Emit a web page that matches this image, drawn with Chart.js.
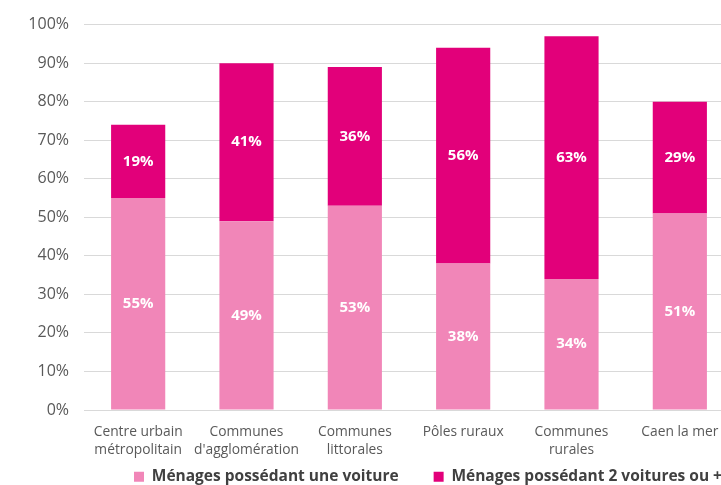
<!DOCTYPE html>
<html>
<head>
<meta charset="utf-8">
<script src="https://cdn.jsdelivr.net/npm/chart.js@4/dist/chart.umd.min.js"></script>
<style>
  html, body { margin: 0; padding: 0; background: #fff; overflow: hidden; }
  #wrap { width: 735px; height: 485px; }
</style>
</head>
<body>
<div id="wrap"><canvas id="myChart" width="735" height="485"></canvas></div>
<script>
const labels = [
  ['Centre urbain', 'métropolitain'],
  ['Communes', "d'agglomération"],
  ['Communes', 'littorales'],
  'Pôles ruraux',
  ['Communes', 'rurales'],
  'Caen la mer'
];
const uneVoiture = [55, 49, 53, 38, 34, 51];
const deuxVoitures = [19, 41, 36, 56, 63, 29];
const yTicks = [0, 10, 20, 30, 40, 50, 60, 70, 80, 90, 100];

const FONT = "'Open Sans', sans-serif";
const GREY = '#595959';

// white percentage in the middle of each segment
const barLabels = {
  id: 'barLabels',
  afterDatasetsDraw(chart) {
    const ctx = chart.ctx;
    ctx.save();
    ctx.fillStyle = '#ffffff';
    ctx.font = 'bold 15px ' + FONT;
    ctx.textAlign = 'center';
    ctx.textBaseline = 'middle';
    chart.data.datasets.forEach((ds, i) => {
      chart.getDatasetMeta(i).data.forEach((bar, j) => {
        const p = bar.getProps(['x', 'y', 'base'], true);
        ctx.fillText(ds.data[j] + '%', p.x, (p.y + p.base) / 2);
      });
    });
    ctx.restore();
  }
};

// legend sits off-centre, to the right, and tight under the axis labels
// (the legend clips to its own box, so the box is stretched downwards too)
const legendShift = {
  id: 'legendShift',
  afterLayout(chart) {
    const lg = chart.legend;
    lg.left += 61;
    lg.right += 61;
    lg.top -= 24;
    lg.bottom += 40;
  }
};

const data = {
  labels,
  datasets: [
    {
      label: 'Ménages possédant une voiture',
      data: uneVoiture,
      backgroundColor: '#f186b8',
      borderWidth: 0
    },
    {
      label: 'Ménages possédant 2 voitures ou +',
      data: deuxVoitures,
      backgroundColor: '#e2007a',
      borderWidth: 0
    }
  ]
};

const config = {
  type: 'bar',
  data: data,
  options: {
    responsive: false,
    animation: false,
    categoryPercentage: 1,
    barPercentage: 0.5,
    layout: { padding: { top: 19, left: 0, right: 1, bottom: 0 } },
    scales: {
      x: {
        stacked: true,
        grid: { display: false },
        border: { display: false },
        afterFit(scale) { scale.height = 48; },
        ticks: {
          color: GREY,
          font: { family: FONT, size: 13.8, lineHeight: 1.3 },
          maxRotation: 0,
          autoSkip: false,
          padding: 5
        }
      },
      y: {
        stacked: true,
        min: 0,
        max: 100,
        afterBuildTicks(scale) {
          scale.ticks = yTicks.map(v => ({ value: v }));
        },
        afterFit(scale) { scale.width = 84; },
        grid: { color: '#d9d9d9', drawTicks: false },
        border: { display: false },
        ticks: {
          color: GREY,
          font: { family: FONT, size: 16 },
          padding: 15,
          callback: v => v + '%'
        }
      }
    },
    plugins: {
      legend: {
        position: 'bottom',
        maxHeight: 27,
        labels: {
          boxWidth: 10,
          boxHeight: 10,
          padding: 35,
          color: '#404040',
          font: { family: FONT, size: 15.5, weight: 'bold' }
        }
      },
      tooltip: { enabled: false }
    }
  },
  plugins: [barLabels, legendShift]
};

const ctx = document.getElementById('myChart');
const myChart = new Chart(ctx, config);
</script>
</body>
</html>
